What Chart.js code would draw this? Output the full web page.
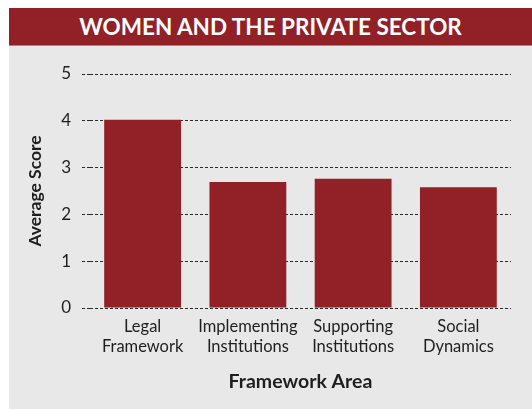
<!DOCTYPE html>
<html>
<head>
<meta charset="utf-8">
<script src="https://cdn.jsdelivr.net/npm/chart.js@4"></script>
<style>
  html, body { margin: 0; padding: 0; background: #fff; width: 532px; height: 409px; overflow: hidden; }
  #panel { position: absolute; left: 9px; top: 8px; width: 523px; height: 401px; background: #e8e8e8; }
  #title { height: 37px; background: #922027; border-bottom: 1px solid #c27a7e; color: #fff;
           font: bold 22.5px Lato, sans-serif; text-align: center; line-height: 38px; }
  #wrap { position: absolute; left: 0; top: 38px; width: 523px; height: 363px; }
</style>
</head>
<body>
<div id="panel">
  <div id="title">WOMEN AND THE PRIVATE SECTOR</div>
  <div id="wrap"><canvas id="scoreChart"></canvas></div>
</div>
<script>
// data
const categories = [
  ["Legal", "Framework"],
  ["Implementing", "Institutions"],
  ["Supporting", "Institutions"],
  ["Social", "Dynamics"]
];
const scores = [4.02, 2.69, 2.76, 2.58];
const yTicks = [0, 1, 2, 3, 4, 5];

const barRed = "#922027";
const ink = "#1e1e1e";

const scoreChart = new Chart(document.getElementById("scoreChart"), {
  type: "bar",
  data: {
    labels: categories,
    datasets: [{
      data: scores,
      backgroundColor: barRed,
      borderWidth: 0,
      categoryPercentage: 1,
      barPercentage: 0.73
    }]
  },
  options: {
    responsive: true,
    maintainAspectRatio: false,
    animation: false,
    layout: { padding: { top: 28, right: 21, bottom: 0, left: 0 } },
    plugins: {
      legend: { display: false },
      tooltip: { enabled: false }
    },
    scales: {
      x: {
        grid: { display: false },
        border: { display: false },
        ticks: {
          color: ink,
          padding: 1,
          autoSkip: false,
          maxRotation: 0,
          minRotation: 0,
          font: { family: "Lato", size: 16.5, lineHeight: 1.2 }
        },
        title: {
          display: true,
          text: "Framework Area",
          color: ink,
          padding: { top: 0, bottom: 16 },
          font: { family: "Lato", size: 19.5, weight: "bold" }
        },
        afterFit: (scale) => { scale.height = 101; }
      },
      y: {
        min: yTicks[0],
        max: yTicks[yTicks.length - 1],
        afterBuildTicks: (scale) => { scale.ticks = yTicks.map(v => ({ value: v })); },
        border: { display: false, dash: [3, 2] },
        grid: {
          color: "#2a2a2a",
          lineWidth: 1,
          tickLength: 8,
          tickBorderDash: [3, 2],
          tickColor: "#2a2a2a"
        },
        ticks: {
          color: ink,
          padding: 11,
          font: { family: "Lato", size: 17 }
        },
        title: {
          display: true,
          text: "Average Score",
          color: ink,
          padding: { top: 16, bottom: 0 },
          font: { family: "Lato", size: 17.5, weight: "bold" }
        },
        afterFit: (scale) => { scale.width = 81; }
      }
    }
  }
});
</script>
</body>
</html>
